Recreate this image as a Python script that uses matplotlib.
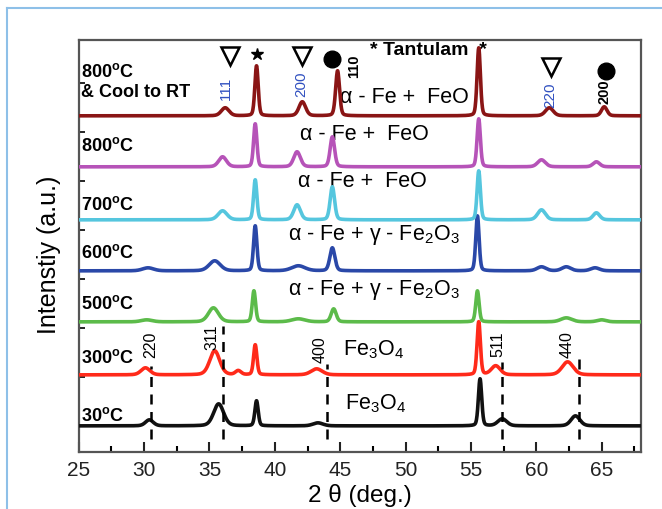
import numpy as np
import matplotlib
matplotlib.use("Agg")
import matplotlib.pyplot as plt
from matplotlib.lines import Line2D
from matplotlib.ticker import MultipleLocator

plt.rcParams['font.family'] = ['Liberation Sans', 'DejaVu Sans']
plt.rcParams['mathtext.fontset'] = 'custom'
plt.rcParams['mathtext.rm'] = 'Liberation Sans'
plt.rcParams['mathtext.it'] = 'Liberation Sans:italic'
plt.rcParams['mathtext.bf'] = 'Liberation Sans:bold'

# XRD peak tables (2theta in deg, height and FWHM), bottom to top
samples = ['30', '300', '500', '600', '700', '800', '800cool']
offsets = [26, 77, 130, 181, 232, 285, 336]
colors = ['#111111', '#ff2a1a', '#5cbb4a', '#2a48a8', '#55c6de', '#b653b8', '#8a1515']

pos_30 = [30.4, 35.7, 38.6, 43.3, 55.7, 57.4, 63.0]
hgt_30 = [6, 22, 25, 3, 47, 7, 10]
wid_30 = [0.7, 0.9, 0.3, 0.9, 0.3, 0.8, 0.8]

pos_300 = [30.1, 35.4, 37.2, 38.5, 43.2, 55.6, 56.9, 62.4]
hgt_300 = [7, 24, 4, 30, 6, 53, 9, 13]
wid_300 = [0.8, 0.9, 0.5, 0.3, 1.0, 0.3, 0.8, 1.0]

pos_500 = [30.2, 35.3, 38.4, 41.8, 44.5, 55.5, 62.3, 65.0]
hgt_500 = [2, 14, 31, 3, 13, 31, 4, 2]
wid_500 = [1.0, 0.9, 0.3, 1.2, 0.45, 0.3, 1.0, 0.8]

pos_600 = [30.3, 35.4, 38.5, 41.8, 44.4, 55.5, 60.4, 62.3, 64.5]
hgt_600 = [3, 10, 45, 5, 23, 55, 4, 4, 3]
wid_600 = [1.0, 1.0, 0.3, 1.2, 0.45, 0.3, 0.8, 0.8, 0.8]

pos_700 = [36.0, 38.5, 41.7, 44.4, 55.6, 60.4, 64.6]
hgt_700 = [9, 40, 15, 33, 49, 10, 7]
wid_700 = [0.8, 0.3, 0.6, 0.4, 0.3, 0.7, 0.6]

pos_800 = [36.0, 38.5, 41.7, 44.4, 55.6, 60.4, 64.6]
hgt_800 = [10, 43, 15, 30, 48, 7, 5]
wid_800 = [0.7, 0.3, 0.6, 0.4, 0.3, 0.7, 0.6]

pos_cool = [36.2, 38.6, 42.1, 44.8, 55.6, 61.0, 65.2]
hgt_cool = [8, 50, 14, 45, 68, 8, 9]
wid_cool = [0.7, 0.3, 0.6, 0.35, 0.3, 0.7, 0.5]

peak_tables = [
    (pos_30, hgt_30, wid_30),
    (pos_300, hgt_300, wid_300),
    (pos_500, hgt_500, wid_500),
    (pos_600, hgt_600, wid_600),
    (pos_700, hgt_700, wid_700),
    (pos_800, hgt_800, wid_800),
    (pos_cool, hgt_cool, wid_cool),
]

temp_labels = [r'30$^{\mathbf{o}}$C', r'300$^{\mathbf{o}}$C', r'500$^{\mathbf{o}}$C',
               r'600$^{\mathbf{o}}$C', r'700$^{\mathbf{o}}$C', r'800$^{\mathbf{o}}$C',
               r'800$^{\mathbf{o}}$C']
phase_labels = [r'Fe$_3$O$_4$', r'Fe$_3$O$_4$', r'α - Fe + γ - Fe$_2$O$_3$',
                r'α - Fe + γ - Fe$_2$O$_3$', 'α - Fe +  FeO', 'α - Fe +  FeO',
                'α - Fe +  FeO']

# Fe3O4 reflections marked with dashed lines
fe3o4_pos = [30.5, 36.0, 44.0, 57.4, 63.3]
fe3o4_hkl = ['220', '311', '400', '511', '440']

# FeO (triangles), alpha-Fe (circles) and Ta (star) markers on the top pattern
feo_pos = [36.55, 42.1, 61.1]
feo_hkl = ['111', '200', '220']
fe_pos = [44.4, 65.3]
fe_hkl = ['110', '200']
ta_pos = [38.6]

x = np.linspace(25, 68, 3000)


def pattern(pos, hgt, wid):
    y = np.zeros_like(x)
    for p, h, w in zip(pos, hgt, wid):
        d = (x - p) / w
        y += h * (0.75 * np.exp(-4 * np.log(2) * d ** 2) + 0.25 / (1 + 4 * d ** 2))
    return y


fig = plt.figure(figsize=(6.62, 5.10), dpi=100)
ax = fig.add_axes([0.119, 0.112, 0.849, 0.808])

for (pos, hgt, wid), off, c in zip(peak_tables, offsets, colors):
    ax.plot(x, off + pattern(pos, hgt, wid), color=c, lw=2.6, zorder=3)

# dashed guides and hkl of magnetite
dash_top = [86, 126, 88, 90, 93]
hkl_xy = [(30.5, 108), (35.2, 116), (43.45, 103), (57.1, 109), (62.35, 108)]
for xp, top, (tx, ty), lab in zip(fe3o4_pos, dash_top, hkl_xy, fe3o4_hkl):
    ax.plot([xp, xp], [13, top], color='black', lw=1.8, ls=(0, (4, 3)), zorder=4)
    ax.text(tx, ty, lab, rotation=90, ha='center', va='center', fontsize=11.5)

# temperature labels at left
temp_y = [37, 95, 149, 200, 248, 307, 381]
for ty, lab in zip(temp_y, temp_labels):
    ax.text(25.2, ty, lab, fontsize=13, fontweight='bold', ha='left', va='center')
ax.text(25.2, 360, '& Cool to RT', fontsize=13, fontweight='bold', ha='left', va='center')

# phase labels
phase_xy = [(45.35, 49), (45.2, 103), (41.0, 163), (41.0, 218), (41.75, 271),
            (41.9, 318), (44.97, 355)]
for (px, py), lab in zip(phase_xy, phase_labels):
    ax.text(px, py, lab, fontsize=15.5, ha='left', va='center', zorder=2)

# markers on the 800 C & cool pattern
feo_sym_y = [396, 396, 385]
feo_lab_y = [364, 369, 358]
for xp, sy in zip(feo_pos, feo_sym_y):
    ax.plot(xp, sy, marker='v', ms=13, mfc='white', mec='black', mew=1.8, zorder=5)
for xp, ly, lab in zip([36.25, 42.05, 61.05], feo_lab_y, feo_hkl):
    ax.text(xp, ly, lab, rotation=90, ha='center', va='center', fontsize=11,
            color='#3050c0')

fe_sym_y = [393, 381]
for xp, sy in zip(fe_pos, fe_sym_y):
    ax.plot(xp, sy, marker='o', ms=12, color='black', zorder=5)
for xp, ly, lab in zip([46.05, 65.2], [387, 361], fe_hkl):
    ax.text(xp, ly, lab, rotation=90, ha='center', va='center', fontsize=10.5,
            fontweight='bold')

ax.plot(ta_pos, [398], marker='*', ms=9, color='black', zorder=5)
ax.text(47.26, 402, '* Tantulam  *', fontsize=14, fontweight='bold', ha='left',
        va='center', zorder=2)

ax.set_xlim(25, 68)
ax.set_ylim(0, 412)
ax.xaxis.set_major_locator(MultipleLocator(5))
ax.xaxis.set_minor_locator(MultipleLocator(2.5))
ax.set_yticks(np.arange(26, 400, 49))
ax.tick_params(axis='x', which='major', direction='in', length=7, width=1.5,
               labelsize=15, colors='#222222', pad=6)
ax.tick_params(axis='x', which='minor', direction='in', length=4, width=1.5)
ax.tick_params(axis='y', direction='in', length=4, width=1.2, labelleft=False)
for sp in ax.spines.values():
    sp.set_linewidth(1.6)
    sp.set_color('#555555')

ax.set_xlabel('2 θ (deg.)', fontsize=17.5, labelpad=3)
ax.set_ylabel('Intenstiy (a.u.)', fontsize=18, labelpad=12)
ax.yaxis.set_label_coords(-0.032, 0.48)

# light blue frame around the panel
fig.add_artist(Line2D([0.0106, 0.0106], [0, 0.982], color='#8ec0e8', lw=1.5))
fig.add_artist(Line2D([0.0106, 1.0], [0.982, 0.982], color='#8ec0e8', lw=1.5))

fig.savefig('out.png', dpi=100)
